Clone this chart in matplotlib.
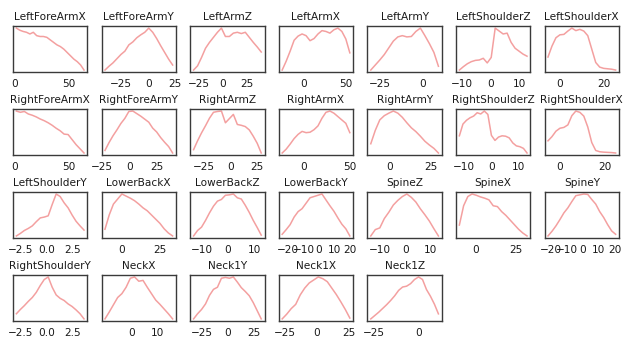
import numpy as np
import matplotlib
matplotlib.use("Agg")
import matplotlib.pyplot as plt

names = ["LeftForeArmX", "LeftForeArmY", "LeftArmZ", "LeftArmX", "LeftArmY", "LeftShoulderZ", "LeftShoulderX",
         "RightForeArmX", "RightForeArmY", "RightArmZ", "RightArmX", "RightArmY", "RightShoulderZ", "RightShoulderX",
         "LeftShoulderY", "LowerBackX", "LowerBackZ", "LowerBackY", "SpineZ", "SpineX", "SpineY",
         "RightShoulderY", "NeckX", "Neck1Y", "Neck1X", "Neck1Z"]

x_lo = [2, -40, -30, -26, -30, -11, -5.5,
        2, -22.5, -35, -23, -11, -11.5, -5.3,
        -2.95, -11, -13, -24, -13.8, -10, -21.7,
        -2.95, -10.8, -32.5, -27, -27]
x_hi = [64, 22.5, 40, 55, 9, 12.5, 25.5,
        64, 39.5, 29, 50, 29.5, 13, 24.6,
        3.6, 33.5, 12.5, 20, 13, 32, 20.4,
        3.6, 16.2, 32, 25.5, 11.5]

y_vals = [
    [1.0, .95, .92, .90, .86, .90, .82, .80, .80, .78, .72, .66, .60, .56, .50, .42, .34, .26, .20, .12, .0],
    [0, .09, .17, .27, .37, .45, .60, .67, .77, .84, .90, 1.0, .90, .75, .58, .42, .26, .12],
    [0, .10, .30, .52, .66, .78, .90, 1.0, .80, .80, .88, .90, .87, .90, .78, .66, .55, .43],
    [0, .21, .45, .71, .81, .86, .82, .70, .75, .86, .94, .92, .88, .96, 1.0, .92, .74, .41],
    [0, .12, .24, .37, .53, .69, .79, .82, .79, .80, .92, 1.0, .82, .63, .42, .09],
    [0, .08, .15, .20, .23, .24, .28, .17, .30, 1.0, .93, .86, .88, .66, .52, .45, .38, .33],
    [.31, .57, .77, .84, .85, .93, 1.0, .94, .97, .93, .82, .50, .18, .07, .04, .03, .02, 0],
    [1.0, .97, .99, .93, .90, .86, .81, .77, .72, .66, .59, .53, .45, .44, .32, .20, .10, 0],
    [.06, .24, .40, .54, .69, .81, .97, .98, .92, .86, .79, .72, .58, .49, .36, .25, .15, 0],
    [.08, .29, .48, .65, .83, .97, .99, 1.0, .72, .82, .92, .68, .66, .63, .55, .40, .23, 0],
    [0, .09, .21, .34, .44, .51, .48, .49, .55, .64, .82, .96, .99, .94, .86, .78, .70, .48],
    [.22, .54, .79, .89, .95, 1.0, .95, .85, .72, .60, .51, .40, .28, .19, .11, 0],
    [.41, .69, .78, .84, .88, .96, .93, 1.0, .92, .42, .30, .38, .41, .40, .36, .24, .17, .15, .11, 0],
    [.29, .39, .52, .59, .61, .67, .89, 1.0, .97, .88, .62, .25, .06, .03, .02, .015, .01, 0],
    [0, .06, .13, .18, .24, .34, .43, .45, .48, .75, 1.0, .94, .79, .67, .50, .35, .24, .14],
    [.16, .50, .76, .88, 1.0, .95, .90, .84, .76, .67, .60, .50, .40, .30, .17, .07, 0],
    [0, .13, .21, .37, .55, .71, .83, .87, .97, .98, 1.0, .91, .88, .73, .56, .37, .20, .02],
    [.04, .15, .27, .45, .58, .65, .78, .91, .94, .97, 1.0, .86, .72, .59, .43, .28, .17, 0],
    [0, .15, .19, .41, .56, .73, .84, .93, .99, .91, .80, .64, .50, .35, .17, 0],
    [.26, .72, .94, 1.0, .97, .93, .90, .86, .72, .70, .58, .49, .38, .27, .16, .07, 0],
    [0, .11, .24, .39, .55, .67, .82, .96, .98, 1.0, .99, .87, .76, .58, .44, .27, .12, .04],
    [.12, .22, .31, .41, .50, .62, .78, .92, .98, .74, .56, .48, .43, .35, .29, .21, .12, 0],
    [0, .16, .33, .50, .59, .74, .95, .98, .88, .90, .74, .59, .44, .34, .23, .12, 0],
    [0, .12, .22, .35, .55, .69, .74, .95, .97, .95, .98, .86, .73, .64, .54, .38, .19, 0],
    [0, .11, .24, .34, .56, .72, .84, .91, .98, .94, .87, .72, .57, .40, .22, .02],
    [0, .08, .16, .25, .34, .44, .55, .68, .76, .78, .84, .94, 1.0, .94, .70, .54, .35, .12],
]

x_ticks = [[0, 50], [-25, 0, 25], [-25, 0, 25], [0, 50], [-25, 0], [-10, 0, 10], [0, 20],
           [0, 50], [-25, 0, 25], [-25, 0, 25], [0, 50], [0, 25], [-10, 0, 10], [0, 20],
           [-2.5, 0.0, 2.5], [0, 25], [-10, 0, 10], [-20, -10, 0, 10, 20], [-10, 0, 10], [0, 25], [-20, -10, 0, 10, 20],
           [-2.5, 0.0, 2.5], [0, 10], [-25, 0, 25], [-25, 0, 25], [-25, 0]]

W, H = 629, 337
fig, axes = plt.subplots(4, 7, figsize=(W / 100, H / 100), dpi=100)
fig.patch.set_facecolor("white")
fig.subplots_adjust(left=13 / W, right=619 / W, top=1 - 26 / H, bottom=1 - 321 / H,
                    wspace=14.2 / 74.4, hspace=36.7 / 46)

fs = 7.6
text_col = "#1a1a1a"
for i, ax in enumerate(axes.flat):
    if i >= len(names):
        ax.remove()
        continue
    y = np.array(y_vals[i])
    x = np.linspace(x_lo[i], x_hi[i], len(y))
    ax.plot(x, y, color="lightcoral", alpha=0.75, lw=1.1)
    ax.set_yticks([])
    ax.set_xticks(x_ticks[i])
    ax.tick_params(axis="x", length=0, pad=5, labelsize=fs, labelcolor=text_col)
    ax.set_title(names[i], fontsize=fs, color=text_col, pad=4.5)
    for sp in ax.spines.values():
        sp.set_color("#3a3a3a")
        sp.set_linewidth(1.0)

fig.savefig("out.png", dpi=100, facecolor="white")
